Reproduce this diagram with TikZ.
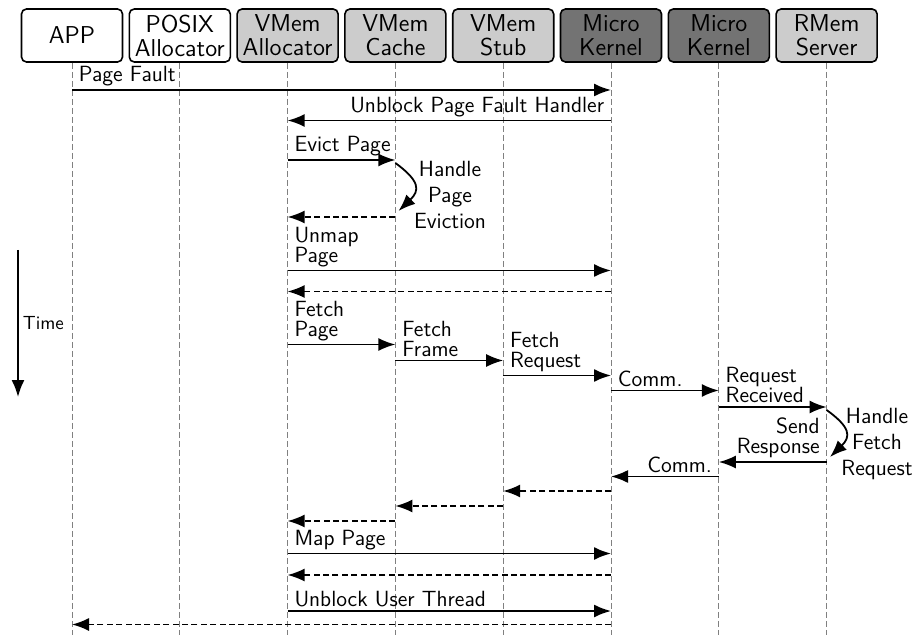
\documentclass[tikz,border=0pt]{standalone}
\usepackage{tikz}
\usetikzlibrary{calc}
\usetikzlibrary{arrows.meta}
\renewcommand{\familydefault}{\sfdefault}
\tikzset{>={Latex[length=8.5pt,width=6.5pt]}}
\tikzstyle{actor}=[draw=black,line width=0.8,rounded corners=2.5pt,minimum width=50.5pt,
                   minimum height=26.5pt,inner sep=0pt,align=center,font=\fontsize{12.2}{12}\selectfont]
\tikzstyle{life line}=[draw=gray,line width=0.5,dash pattern=on 3pt off 1.5pt]
\tikzstyle{call}=[->,black,line width=0.9]
\tikzstyle{reply}=[->,black,line width=0.8,dash pattern=on 3pt off 1.7pt]
\tikzstyle{note}=[inner xsep=3pt,inner ysep=1.5pt,align=left,font=\fontsize{11}{10}\selectfont]
\tikzstyle{task}=[inner sep=0pt,align=center,font=\fontsize{11}{13}\selectfont]

\begin{document}
\begin{tikzpicture}[x=0.5pt,y=-0.5pt]
        \useasboundingbox (0,0) rectangle (913,635);

        \def\xo{72} % first lifeline
        \def\dx{107.8} % lifeline spacing
        \def\yb{35.5} % centre of the header boxes
        \coordinate (end) at (0,635);

        % HEADER
        \node[actor,fill=white]    (app)    at (\xo,\yb)        {APP};
        \node[actor,fill=white]    (posix)  at (\xo+\dx,\yb)    {POSIX\\Allocator};
        \node[actor,fill=black!20] (valloc) at (\xo+2*\dx,\yb)  {VMem\\Allocator};
        \node[actor,fill=black!20] (vcache) at (\xo+3*\dx,\yb)  {VMem\\Cache};
        \node[actor,fill=black!20] (vstub)  at (\xo+4*\dx,\yb)  {VMem\\Stub};
        \node[actor,fill=black!55] (mk1)    at (\xo+5*\dx,\yb)  {Micro\\Kernel};
        \node[actor,fill=black!55] (mk2)    at (\xo+6*\dx,\yb)  {Micro\\Kernel};
        \node[actor,fill=black!20] (rmem)   at (\xo+7*\dx,\yb)  {RMem\\Server};

        % LIFE LINES
        \foreach \n in {app,posix,valloc,vcache,vstub,mk1,mk2,rmem}{
          \draw[life line] (\n.south) -- (\n.south |- end);
        }

        % TIME
        \coordinate (t0) at (18,250);
        \coordinate (t1) at (18,397);
        \draw[call] (t0) -- (t1) node[midway,right,inner xsep=2pt,font=\fontsize{9.5}{10}\selectfont] (time) {Time};

        % ROWS
        \coordinate (r1) at (0,90);
        \coordinate (r2) at (0,120.5);
        \coordinate (r3) at (0,160);
        \coordinate (r4) at (0,217);
        \coordinate (r5) at (0,270.5);
        \coordinate (r6) at (0,291.5);
        \coordinate (r7) at (0,344.5);
        \coordinate (r8) at (0,360.5);
        \coordinate (r9) at (0,375.5);
        \coordinate (r10) at (0,390.5);
        \coordinate (r11) at (0,407);
        \coordinate (r12) at (0,462);
        \coordinate (r13) at (0,476.5);
        \coordinate (r14) at (0,491);
        \coordinate (r15) at (0,506);
        \coordinate (r16) at (0,521);
        \coordinate (r17) at (0,553.5);
        \coordinate (r18) at (0,575);
        \coordinate (r19) at (0,611);
        \coordinate (r20) at (0,624.5);

        % PAGE FAULT, EVICTION
        \draw[call] (app |- r1) -- (mk1 |- r1) node[note,pos=0,anchor=south west] (l1) {Page Fault};
        \draw[call] (mk1 |- r2) -- (valloc |- r2) node[note,pos=0,anchor=south east] (l2) {Unblock Page Fault Handler};
        \draw[call] (valloc |- r3) -- (vcache |- r3) node[note,pos=0,anchor=south west] (l3) {Evict Page};
        \coordinate (e0) at (395.4,163);
        \coordinate (e1) at (398.5,211);
        \draw[call] (e0) to[bend left=50,looseness=1.6] (e1);
        \node[task] (he) at (450,195) {Handle\\Page\\Eviction};
        \draw[reply] (vcache |- r4) -- (valloc |- r4);
        \draw[call] (valloc |- r5) -- (mk1 |- r5) node[note,pos=0,anchor=south west] (l5) {Unmap\\Page};
        \draw[reply] (mk1 |- r6) -- (valloc |- r6);

        % FETCH
        \draw[call] (valloc |- r7) -- (vcache |- r7) node[note,pos=0,anchor=south west] (l7) {Fetch\\Page};
        \draw[call] (vcache |- r8) -- (vstub |- r8) node[note,pos=0,anchor=south west] (l8) {Fetch\\Frame};
        \draw[call] (vstub |- r9) -- (mk1 |- r9) node[note,pos=0,anchor=south west] (l9) {Fetch\\Request};
        \draw[call] (mk1 |- r10) -- (mk2 |- r10) node[note,pos=0,anchor=south west] (l10) {Comm.};
        \draw[call] (mk2 |- r11) -- (rmem |- r11) node[note,pos=0,anchor=south west] (l11) {Request\\Received};
        \coordinate (f0) at (826.6,410);
        \coordinate (f1) at (830,457);
        \draw[call] (f0) to[bend left=50,looseness=1.6] (f1);
        \node[task] (hf) at (877,444) {Handle\\Fetch\\Request};
        \draw[call] (rmem |- r12) -- (mk2 |- r12) node[note,align=right,pos=0,anchor=south east] (l12) {Send\\Response};
        \draw[call] (mk2 |- r13) -- (mk1 |- r13) node[note,pos=0,anchor=south east] (l13) {Comm.};
        \draw[reply] (mk1 |- r14) -- (vstub |- r14);
        \draw[reply] (vstub |- r15) -- (vcache |- r15);
        \draw[reply] (vcache |- r16) -- (valloc |- r16);

        % MAP, UNBLOCK
        \draw[call] (valloc |- r17) -- (mk1 |- r17) node[note,pos=0,anchor=south west] (l17) {Map Page};
        \draw[reply] (mk1 |- r18) -- (valloc |- r18);
        \draw[call] (valloc |- r19) -- (mk1 |- r19) node[note,pos=0,anchor=south west] (l19) {Unblock User Thread};
        \draw[reply] (mk1 |- r20) -- (app |- r20);

    \end{tikzpicture}
\end{document}
